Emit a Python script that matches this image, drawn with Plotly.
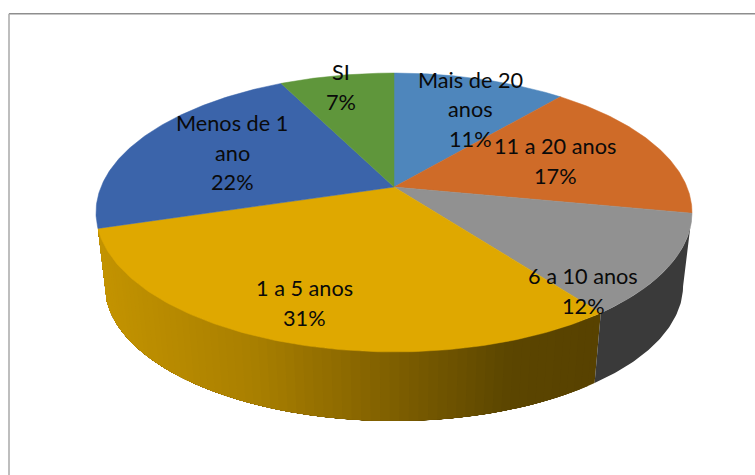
import numpy as np
import plotly.graph_objects as go

# ---- data ----
categories = ["Mais de 20<br>anos", "11 a 20 anos", "6 a 10 anos", "1 a 5 anos", "Menos de 1<br>ano", "SI"]
values = [11.2, 16.8, 11.7, 30.6, 22.3, 7.4]

# ---- styles ----
top_colors = ["#4E86BC", "#CF6B28", "#919191", "#DFA800", "#3B64AA", "#5F963B"]
side_stops = {
    3: [(96, (196, 148, 0)), (250, (170, 128, 0)), (390, (128, 96, 0)), (510, (92, 70, 0)), (600, (88, 66, 0))],
    2: [(590, (60, 60, 60)), (700, (58, 58, 58))],
}
side_strips = {3: 70, 2: 1}
label_centers = [(470, 109), (555, 161), (583, 291), (304, 303), (232, 152.5), (341, 87)]
LINE_PITCH = 29.5
FONT = dict(family="Lato", size=21.7, color="#0a0a0a")

# ---- projection of the disc (pixels in the 755x475 image) ----
CX, CY, A, B, K = 394.0, 187.0, 293.0, 134.8, 0.1827
CY_LOW, LOW = 261.0, 0.97


def project(theta, r=1.0, low=False):
    u, v = r * np.sin(theta), r * np.cos(theta)
    s = 1 / (1 + K * v)
    if low:
        return CX + LOW * A * u * s, CY_LOW - LOW * B * v * s
    return CX + A * u * s, CY - B * v * s


def side_color(stops, x):
    xs = [p[0] for p in stops]
    return "rgb(%d,%d,%d)" % tuple(int(np.interp(x, xs, [p[1][i] for p in stops])) for i in range(3))


edges = np.radians(np.concatenate([[0], np.cumsum(values)]) * 3.6)
fig = go.Figure()

# side faces (only the wedges facing the viewer): each strip runs to the wedge's end,
# and the next strip paints over it, so no seams appear between strips
for idx, stops in side_stops.items():
    t = np.linspace(edges[idx], edges[idx + 1], side_strips[idx] + 1)
    for t0 in t[:-1]:
        arc = np.linspace(t0, edges[idx + 1], 60)
        xt, yt = project(arc)
        xl, yl = project(arc[::-1], low=True)
        xs = np.concatenate([xt, xl, xt[:1]])
        ys = np.concatenate([yt, yl, yt[:1]])
        x_mid = (project(t0)[0] + project(t0 + (t[1] - t[0]))[0]) / 2
        c = side_color(stops, x_mid)
        fig.add_trace(go.Scatter(x=xs, y=ys, mode="lines", fill="toself", fillcolor=c,
                                 line=dict(color=c, width=0),
                                 hoverinfo="skip", showlegend=False))

# top faces
for i, cat in enumerate(categories):
    t = np.linspace(edges[i], edges[i + 1], 120)
    px, py = project(t)
    xs = np.concatenate([[CX], px, [CX]])
    ys = np.concatenate([[CY], py, [CY]])
    fig.add_trace(go.Scatter(x=xs, y=ys, mode="lines", fill="toself", fillcolor=top_colors[i],
                             line=dict(color=top_colors[i], width=0.5), name=cat.replace("<br>", " "),
                             hoverinfo="name", showlegend=False))

# labels, each text line on its own so the pitch matches
annotations = []
for cat, val, (lx, ly) in zip(categories, values, label_centers):
    lines = cat.split("<br>") + [f"{round(val)}%"]
    for j, line in enumerate(lines):
        annotations.append(dict(x=lx, y=ly + (j - (len(lines) - 1) / 2) * LINE_PITCH, text=line, showarrow=False,
                                xref="x", yref="y", xanchor="center", yanchor="middle", font=FONT))

shapes = [
    dict(type="line", xref="x", yref="y", x0=9, x1=755, y0=13.7, y1=13.7, line=dict(color="#8E8E8E", width=1.5)),
    dict(type="line", xref="x", yref="y", x0=9, x1=9, y0=13.7, y1=475, line=dict(color="#A8A8A8", width=1.5)),
]

fig.update_layout(
    width=755, height=475, margin=dict(l=0, r=0, t=0, b=0), autosize=False,
    paper_bgcolor="white", plot_bgcolor="white", showlegend=False,
    xaxis=dict(range=[0, 755], visible=False, fixedrange=True),
    yaxis=dict(range=[475, 0], visible=False, fixedrange=True),
    annotations=annotations, shapes=shapes,
)
fig.write_html("out.html", config={"displayModeBar": False},
               post_script="document.body.style.margin='0';document.documentElement.style.overflow='hidden';")
